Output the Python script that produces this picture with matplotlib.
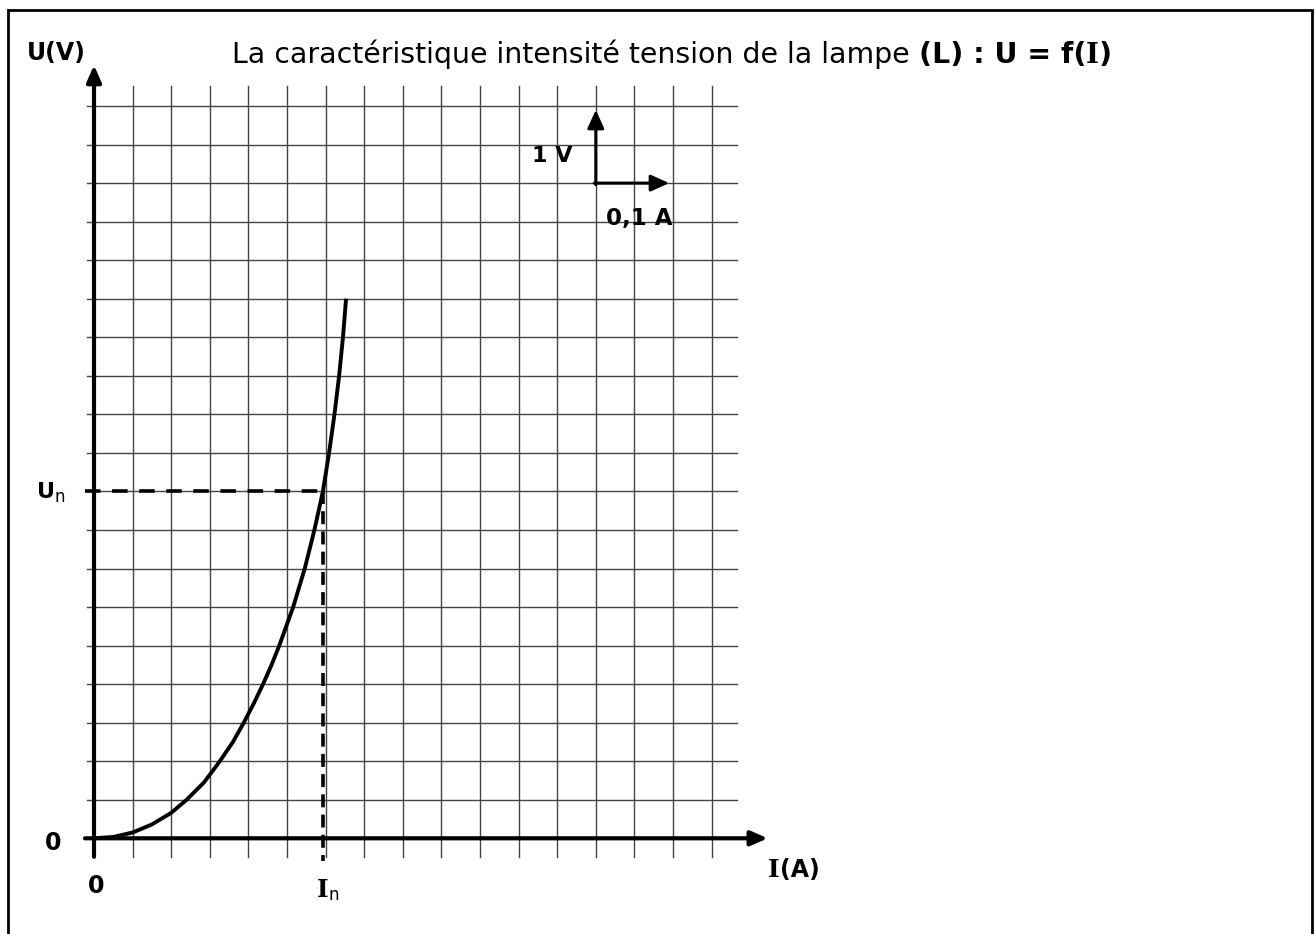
"""U = f(I) characteristic of a lamp, drawn on squared paper."""

import matplotlib
matplotlib.use("Agg")
import matplotlib.pyplot as plt
from matplotlib.patches import Rectangle

# curve (I in A, U in V)
I_vals = [0, 0.025, 0.05, 0.075, 0.1, 0.12, 0.1425, 0.163, 0.18, 0.194, 0.207, 0.219,
          0.23, 0.24, 0.258, 0.273, 0.2855, 0.2965, 0.3045, 0.3115, 0.3175, 0.3225, 0.3265]
U_vals = [0, 0.0175, 0.075, 0.18, 0.33, 0.5, 0.725, 1.0, 1.25, 1.5, 1.75, 2.0,
          2.25, 2.5, 3.0, 3.5, 4.0, 4.5, 5.0, 5.5, 6.0, 6.5, 7.0]

# nominal point
I_n = 0.2965
U_n = 4.5

# paper grid: 0.05 A and 0.5 V per square
grid_I = [0.05 * k for k in range(17)]
grid_U = [0.5 * k for k in range(20)]

# scale key (2 squares each way)
key_I0, key_U0 = 0.65, 8.5
key_dI, key_dU = 0.095, 0.95

W, H = 1315, 934
X0, Y0 = 94.0, 838.3          # pixel position of the origin
PX_A, PX_V = 772.0, 77.08     # pixels per A, pixels per V

SANS = ["DejaVu Sans"]
SERIF = ["DejaVu Serif"]


def fx(px):
    return px / W


def fy(py):
    return 1 - py / H


fig = plt.figure(figsize=(W / 100, H / 100), dpi=100)
ax = fig.add_axes([0, 0, 1, 1])
ax.set_xlim(-X0 / PX_A, (W - X0) / PX_A)
ax.set_ylim(-(H - Y0) / PX_V, Y0 / PX_V)
ax.axis("off")

# frame round the sheet (bottom edge falls outside the picture)
fig.patches.append(Rectangle((fx(8), fy(940)), fx(1311.7) - fx(8), fy(10.5) - fy(940),
                             transform=fig.transFigure, fill=False, lw=2, ec="k"))

# squared paper
for g in grid_I:
    ax.plot([g, g], [-0.24, 9.76], color="#444444", lw=1.0, zorder=1)
for g in grid_U:
    ax.plot([-0.0095, 0.8325], [g, g], color="#444444", lw=1.0, zorder=1)

# axes with arrows
axis_arrow = dict(arrowstyle="-|>,head_length=0.5,head_width=0.22", lw=3.0, color="k",
                  shrinkA=0, shrinkB=0, mutation_scale=20)
ax.annotate("", xy=(0, 10.03), xytext=(0, -0.24), arrowprops=axis_arrow, zorder=3)
ax.annotate("", xy=(0.8726, 0), xytext=(-0.0117, 0), arrowprops=axis_arrow, zorder=3)

# scale key
key_arrow = dict(arrowstyle="-|>,head_length=0.55,head_width=0.25", lw=2.2, color="k",
                 shrinkA=0, shrinkB=0, mutation_scale=20)
ax.annotate("", xy=(key_I0, key_U0 + key_dU), xytext=(key_I0, key_U0 - 0.02),
            arrowprops=key_arrow, zorder=3)
ax.annotate("", xy=(key_I0 + key_dI, key_U0), xytext=(key_I0 - 0.002, key_U0),
            arrowprops=key_arrow, zorder=3)

# characteristic
ax.plot(I_vals, U_vals, color="k", lw=2.8, solid_capstyle="butt",
        solid_joinstyle="round", zorder=4)

# nominal point projections
ax.plot([-0.012, I_n], [U_n, U_n], color="k", lw=2.6, dashes=(4.3, 3.2), zorder=4)
ax.plot([I_n, I_n], [U_n, -0.3], color="k", lw=2.6, dashes=(3.6, 2.0), zorder=4)

renderer = fig.canvas.get_renderer()


def put_run(x_px, base_px, pieces):
    """Write text pieces one after the other on the same baseline."""
    x = fx(x_px)
    for s, size, weight, family, dy in pieces:
        t = fig.text(x, fy(base_px + dy), s, fontsize=size, fontweight=weight,
                     family=family, ha="left", va="baseline")
        bb = t.get_window_extent(renderer=renderer)
        x = fx(bb.x1 * 100 / fig.dpi)


put_run(232, 63, [
    ("La caractéristique intensité tension de la lampe ", 20.4, "normal", SANS, 0),
    ("(L) : U = f(", 20.4, "bold", SANS, 0),
    ("I", 20, "bold", SERIF, 0),
    (")", 20.4, "bold", SANS, 0),
])
put_run(27, 60, [("U(V)", 17, "bold", SANS, 0)])
put_run(532, 161.7, [("1 V", 16, "bold", SANS, 0)])
put_run(606, 225, [("0,1 A", 16.5, "bold", SANS, 0)])
put_run(37, 497.7, [("U", 16, "bold", SANS, 0), ("n", 12, "normal", SANS, 4)])
put_run(45, 850, [("0", 17, "bold", SANS, 0)])
put_run(88, 893, [("0", 17, "bold", SANS, 0)])
put_run(317, 896.7, [("I", 18, "bold", SERIF, 0), ("n", 12, "normal", SANS, 3)])
put_run(768, 877, [("I", 18, "bold", SERIF, 0), ("(A)", 17, "bold", SANS, 0)])

fig.savefig("out.png", dpi=100)
plt.close(fig)
